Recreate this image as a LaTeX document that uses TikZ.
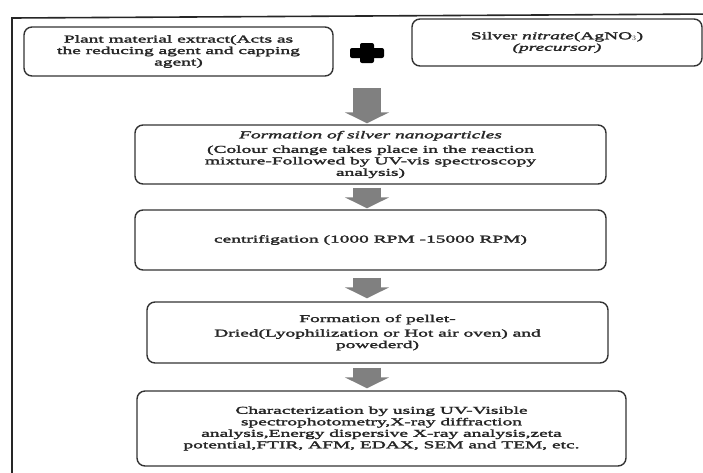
\documentclass[tikz,border=0pt]{standalone}
\usepackage{fontspec}
\setmainfont{Liberation Serif}[FakeStretch=1.85,FakeBold=2.5]
\usetikzlibrary{arrows.meta}

\begin{document}
\begin{tikzpicture}[x=1pt,y=-1pt,
    stepbox/.style={draw=black!80,line width=1.4pt,rounded corners=8pt,fill=white,align=center,
      inner sep=2pt,text=black!85,font=\fontsize{10.5}{11.5}\selectfont},
    flowarrow/.style={draw=black!50,line width=28pt,-{Triangle[width=44pt,length=11pt]}}]
\useasboundingbox (0,0) rectangle (703,472);
\draw[line width=1.6pt,black!85] (12,490) -- (12,18) -- (715,14);

% top row
\node[stepbox,minimum width=309pt,minimum height=49pt] (extract) at (178.5,51.5)
  {Plant material extract(Acts as\\the reducing agent and capping\\agent)};
\node[stepbox,minimum width=290pt,minimum height=47pt] (nitrate) at (557,42.5)
  {Silver \textit{nitrate}(AgNO$_3$)\\\textit{(precursor)}};
\coordinate (plus) at (367,53);
\fill[black,rounded corners=2pt] (plus) ++(-17,-5) rectangle ++(34,10);
\fill[black,rounded corners=2pt] (plus) ++(-7,-10) rectangle ++(14,20);
\coordinate (join) at (367,88);

% steps
\node[stepbox,minimum width=471pt,minimum height=59pt] (nano) at (370.5,154.5)
  {\textit{Formation of silver nanoparticles}\\[3pt](Colour change takes place in the reaction\\mixture-Followed by UV-vis spectroscopy\\analysis)};
\node[stepbox,minimum width=471pt,minimum height=60pt] (spin) at (370.5,240)
  {centrifigation (1000 RPM -15000 RPM)};
\node[stepbox,minimum width=461pt,minimum height=61pt] (pellet) at (377.5,332.5)
  {Formation of pellet-\\[3pt]Dried(Lyophilization or Hot air oven) and\\powederd)};
\node[stepbox,minimum width=489pt,minimum height=75pt] (charac) at (381.5,428.5)
  {Characterization by using UV-Visible\\spectrophotometry,X-ray diffraction\\analysis,Energy dispersive X-ray analysis,zeta\\potential,FTIR, AFM, EDAX, SEM and TEM, etc.};

% arrows
\draw[flowarrow,shorten >=1pt] (join) -- (join |- nano.north);
\draw[flowarrow,shorten <=3pt,shorten >=1pt] (join |- nano.south) -- (join |- spin.north);
\draw[flowarrow,shorten <=7pt,shorten >=3pt] (join |- spin.south) -- (join |- pellet.north);
\draw[flowarrow,shorten <=4pt,shorten >=2pt] (join |- pellet.south) -- (join |- charac.north);
\end{tikzpicture}
\end{document}
